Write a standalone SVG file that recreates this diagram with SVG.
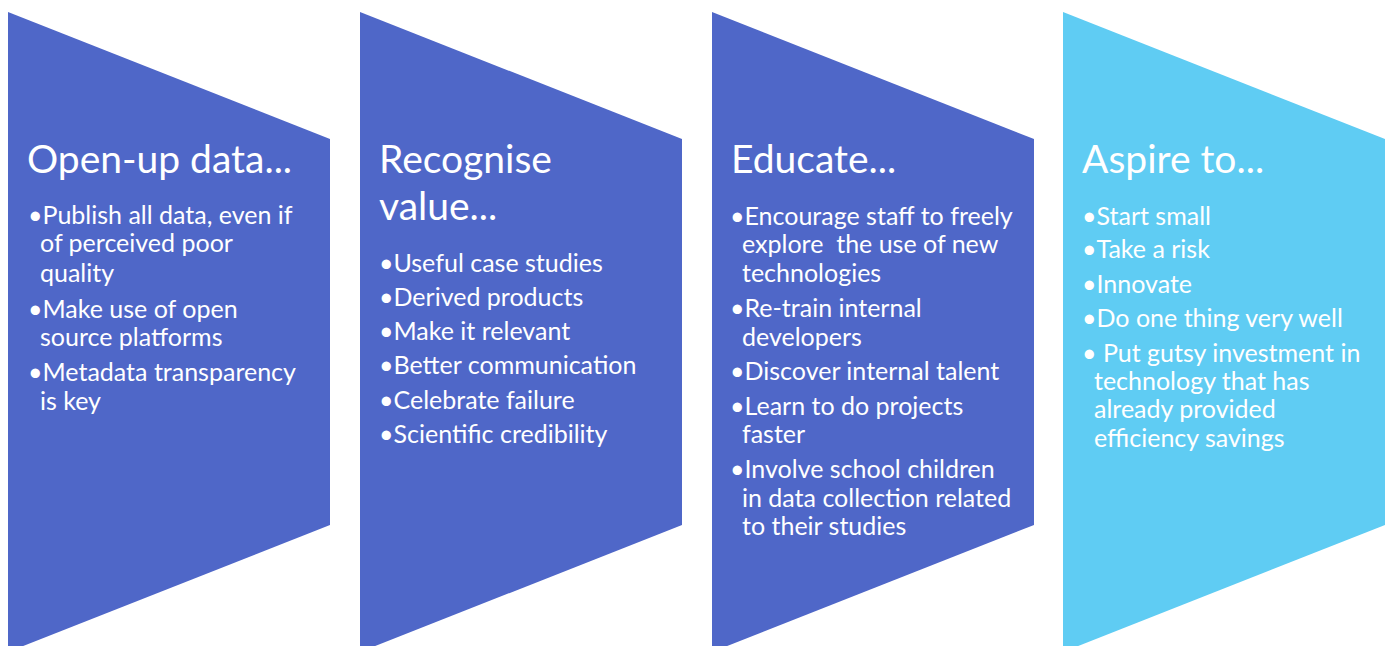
<svg xmlns="http://www.w3.org/2000/svg" width="1389" height="646" viewBox="0 0 1389 646">
<style>
.dark{fill:#4F67C8}
.light{fill:#5FCCF3}
text{fill:#FFFFFF;font-family:Lato,"Open Sans","Liberation Sans",sans-serif}
.t{font-size:39px}
.b{font-size:25px}
</style>
<rect width="1389" height="646" fill="#FFFFFF"/>
<g id="node1">
<polygon class="dark" points="8,12 330,139 330,525 8,652"/>
<text class="t" x="27" y="173">Open-up data...</text>
<text class="b"><tspan x="28" y="224">•Publish all data, even if</tspan><tspan x="40" y="252">of perceived poor</tspan><tspan x="40" y="282">quality</tspan><tspan x="28" y="318">•Make use of open</tspan><tspan x="40" y="346">source platforms</tspan><tspan x="28" y="381">•Metadata transparency</tspan><tspan x="40" y="410">is key</tspan></text>
</g>
<g id="node2">
<polygon class="dark" points="360,12 682,139 682,525 360,652"/>
<text class="t"><tspan x="379" y="173">Recognise</tspan><tspan x="379" y="220">value...</tspan></text>
<text class="b"><tspan x="379" y="272">•Useful case studies</tspan><tspan x="379" y="306">•Derived products</tspan><tspan x="379" y="340">•Make it relevant</tspan><tspan x="379" y="374">•Better communication</tspan><tspan x="379" y="409">•Celebrate failure</tspan><tspan x="379" y="443">•Scientific credibility</tspan></text>
</g>
<g id="node3">
<polygon class="dark" points="712,12 1034,139 1034,525 712,652"/>
<text class="t" x="731" y="173">Educate...</text>
<text class="b"><tspan x="730" y="225">•Encourage staff to freely</tspan><tspan x="742" y="253" xml:space="preserve">explore  the use of new</tspan><tspan x="742" y="282">technologies</tspan><tspan x="730" y="317">•Re-train internal</tspan><tspan x="742" y="346">developers</tspan><tspan x="730" y="380">•Discover internal talent</tspan><tspan x="730" y="415">•Learn to do projects</tspan><tspan x="742" y="443">faster</tspan><tspan x="730" y="478">•Involve school children</tspan><tspan x="742" y="507">in data collection related</tspan><tspan x="742" y="535">to their studies</tspan></text>
</g>
<g id="node4">
<polygon class="light" points="1063,12 1385,139 1385,525 1063,652"/>
<text class="t" x="1082" y="173">Aspire to...</text>
<text class="b"><tspan x="1082" y="225">•Start small</tspan><tspan x="1082" y="258">•Take a risk</tspan><tspan x="1082" y="293">•Innovate</tspan><tspan x="1082" y="327">•Do one thing very well</tspan><tspan x="1082" y="362" xml:space="preserve">• Put gutsy investment in</tspan><tspan x="1094" y="390">technology that has</tspan><tspan x="1094" y="418">already provided</tspan><tspan x="1094" y="447">efficiency savings</tspan></text>
</g>
<g id="connectors"/>
</svg>
